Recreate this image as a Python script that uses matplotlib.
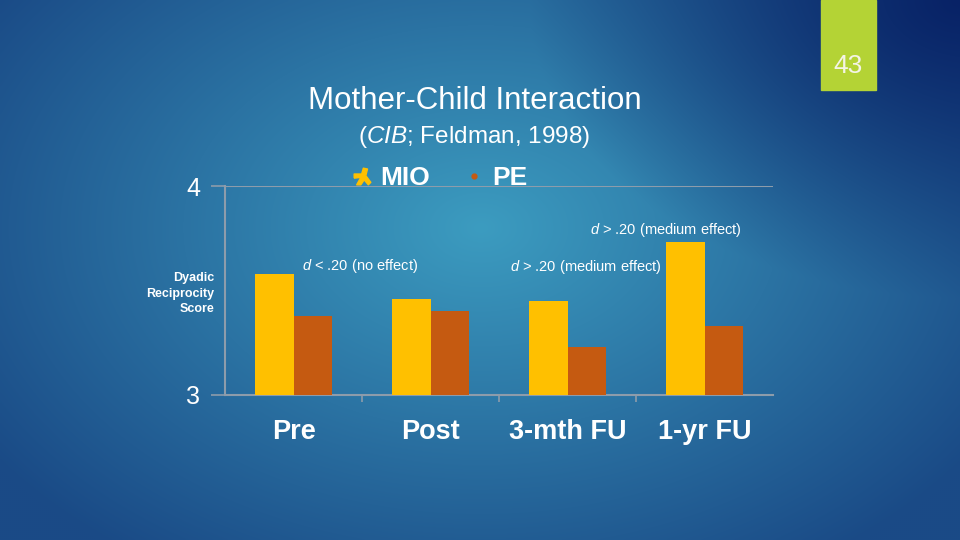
import numpy as np
import matplotlib
matplotlib.use("Agg")
import matplotlib.pyplot as plt
from matplotlib.lines import Line2D
from matplotlib.patches import Rectangle

plt.rcParams['font.family'] = ['Liberation Sans', 'DejaVu Sans']
plt.rcParams['mathtext.fontset'] = 'custom'
plt.rcParams['mathtext.rm'] = 'Liberation Sans'
plt.rcParams['mathtext.it'] = 'Liberation Sans:italic'

categories = ["Pre", "Post", "3-mth FU", "1-yr FU"]
mio = [3.58, 3.46, 3.45, 3.73]
pe = [3.38, 3.40, 3.23, 3.33]
series_names = ["MIO", "PE"]
y_ticks = [3, 4]
notes = ["$d$ < .20 (no effect)", "$d$ > .20 (medium effect)", "$d$ > .20 (medium effect)"]
note_pos = [(0.06, 3.617), (1.58, 3.612), (2.165, 3.789)]

yellow = "#ffc000"
orange = "#c55a11"
grid_col = "#8d9cab"

fig = plt.figure(figsize=(9.6, 5.4), dpi=100)

# background gradient
bg = fig.add_axes([0, 0, 1, 1])
h, w = 270, 480
yy, xx = np.mgrid[0:h, 0:w]
xn = xx / w
yn = yy / h
r = np.sqrt(((xn - 0.5) / 0.62) ** 2 + ((yn - 0.42) / 0.75) ** 2)
r = np.clip(r, 0, 1)
center = np.array([0x3c, 0x9c, 0xc0]) / 255
edge = np.array([0x1a, 0x4a, 0x86]) / 255
img = center[None, None, :] * (1 - r[..., None]) + edge[None, None, :] * r[..., None]
# darker navy towards top right
tr = np.clip(1 - np.sqrt(((xn - 1.0) / 0.45) ** 2 + ((yn - 0.0) / 0.55) ** 2), 0, 1)
navy = np.array([0x08, 0x22, 0x66]) / 255
img = img * (1 - tr[..., None]) + navy[None, None, :] * tr[..., None]
bg.imshow(img, aspect='auto', extent=[0, 1, 0, 1], interpolation='bilinear')
bg.set_xlim(0, 1)
bg.set_ylim(0, 1)
bg.axis('off')

# page number box
bg.add_patch(Rectangle((821 / 960, 1 - 90 / 540), 55 / 960, 90 / 540, color="#b4d335", zorder=2))
bg.text(848 / 960, 1 - 66 / 540, "43", color="#f4f4e6", fontsize=19, ha='center', va='center', zorder=3)

# titles
fig.text(475 / 960, 1 - 101 / 540, "Mother-Child Interaction", color="white", fontsize=22.5,
         ha='center', va='center')
fig.text(474 / 960, 1 - 137 / 540, "($\\mathit{CIB}$; Feldman, 1998)", color="white", fontsize=17.5,
         ha='center', va='center')

ax = fig.add_axes([225 / 960, 1 - 395 / 540, 548 / 960, 209 / 540])
ax.patch.set_alpha(0)
x = np.arange(len(categories))
bw = 0.281
ax.bar(x - bw / 2, [v - 3 for v in mio], bw, bottom=3, color=yellow, zorder=3)
ax.bar(x + bw / 2, [v - 3 for v in pe], bw, bottom=3, color=orange, zorder=3)

ax.set_xlim(-0.5, 3.5)
ax.set_ylim(3, 4)
ax.set_yticks(y_ticks)
ax.set_yticklabels([str(t) for t in y_ticks], color="white", fontsize=18)
ax.tick_params(axis='y', length=10, color=grid_col, width=1.2, pad=8)
ax.set_xticks(x)
ax.set_xticklabels(categories, color="white", fontsize=19.5, fontweight='bold')
ax.set_xticks(np.arange(0.5, 3.5, 1), minor=True)
ax.tick_params(axis='x', which='major', length=0, pad=17)
ax.tick_params(axis='x', which='minor', length=5, color=grid_col, width=1.2)
ax.axhline(4, color=grid_col, lw=1.5, zorder=1)
for s in ['top', 'right']:
    ax.spines[s].set_visible(False)
for s in ['left', 'bottom']:
    ax.spines[s].set_color(grid_col)
    ax.spines[s].set_linewidth(1.5)

ax.set_ylabel("Dyadic\nReciprocity\nScore", color="white", fontsize=9, fontweight='bold',
              rotation=0, ha='right', va='center', linespacing=1.35)
ax.yaxis.set_label_coords(-0.02, 0.485)

for txt, (nx, ny) in zip(notes, note_pos):
    ax.text(nx, ny, txt, color="white", fontsize=10.5, ha='left', va='center', zorder=4)

# legend
mio_verts = [(-1, -0.2), (-0.2, -0.1), (-0.7, -1), (-0.2, -1), (0.2, -0.4), (0.7, -1),
             (1, -0.7), (0.4, 0.1), (0.6, 0.9), (0.1, 1), (-0.1, 0.3), (-1, 0.3), (-1, -0.2)]
handles = [Line2D([], [], ls='none', marker=mio_verts, markersize=12, color=yellow),
           Line2D([], [], ls='none', marker='o', markersize=3.5, color=orange)]
leg = fig.legend(handles, series_names, loc='center', bbox_to_anchor=(438 / 960, 1 - 178 / 540),
                 ncol=2, frameon=False, fontsize=19, handletextpad=0.2, columnspacing=1.15,
                 handlelength=1.0)
for t in leg.get_texts():
    t.set_color("white")
    t.set_fontweight('bold')

fig.savefig("out.png", dpi=100)
